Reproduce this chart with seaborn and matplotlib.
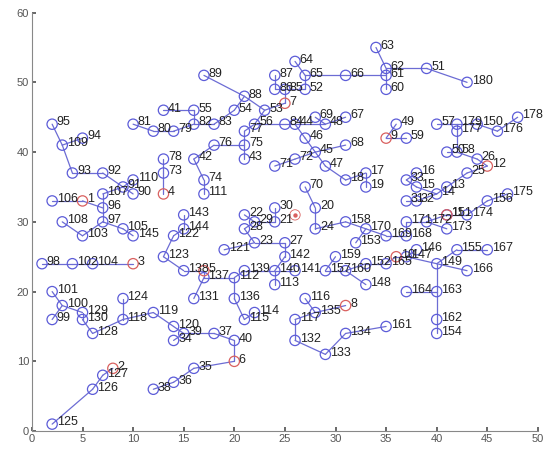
import matplotlib
matplotlib.use("Agg")
import matplotlib.pyplot as plt
import seaborn as sns
import pandas as pd

# node positions, index i -> node i+1
node_x = [5, 8, 10, 13, 17, 20, 25, 31, 35, 36,
          41, 45, 41, 40, 38, 38, 33, 31, 33, 28,
          24, 21, 22, 28, 43, 44, 25, 21, 22, 24,
          37, 38, 37, 14, 16, 14, 18, 12, 15, 20,
          13, 16, 21, 26, 28, 27, 29, 29, 36, 41,
          39, 27, 23, 20, 16, 22, 40, 42, 37, 35,
          35, 35, 34, 26, 27, 31, 31, 31, 28, 27,
          24, 26, 13, 17, 21, 18, 21, 13, 14, 12,
          10, 16, 18, 25, 25, 24, 24, 21, 17, 10,
          9, 7, 4, 5, 2, 7, 7, 1, 2, 3,
          2, 4, 5, 6, 9, 2, 7, 3, 3, 10,
          17, 20, 24, 22, 21, 27, 26, 9, 12, 14,
          19, 14, 13, 9, 2, 6, 7, 6, 5, 5,
          16, 26, 29, 31, 28, 20, 17, 15, 21, 24,
          26, 25, 15, 15, 10, 38, 37, 33, 40, 44,
          41, 33, 32, 40, 42, 45, 29, 31, 30, 31,
          35, 40, 40, 37, 35, 43, 45, 37, 35, 33,
          37, 39, 41, 43, 47, 46, 42, 48, 42, 43]
node_y = [33, 9, 24, 34, 23, 10, 47, 18, 42, 25,
          31, 38, 35, 34, 35, 37, 37, 36, 35, 32,
          30, 31, 27, 29, 37, 39, 27, 29, 30, 32,
          33, 33, 36, 13, 9, 7, 14, 6, 14, 13,
          46, 39, 39, 44, 40, 42, 38, 44, 44, 40,
          52, 49, 46, 46, 46, 44, 44, 40, 42, 49,
          51, 52, 55, 53, 51, 51, 45, 41, 45, 35,
          38, 39, 37, 36, 41, 41, 43, 39, 43, 43,
          44, 44, 44, 44, 49, 49, 51, 48, 51, 34,
          35, 37, 37, 42, 44, 32, 30, 24, 16, 18,
          20, 24, 28, 24, 29, 33, 34, 30, 41, 36,
          34, 22, 21, 17, 16, 19, 16, 16, 17, 15,
          26, 28, 25, 19, 1, 6, 8, 14, 17, 16,
          19, 13, 11, 14, 17, 19, 22, 23, 23, 23,
          23, 25, 31, 29, 28, 26, 25, 21, 24, 44,
          31, 24, 27, 14, 26, 33, 23, 30, 25, 23,
          15, 16, 20, 20, 24, 23, 26, 28, 28, 29,
          30, 30, 29, 31, 34, 43, 43, 45, 44, 50]
red_nodes = list(range(1, 13))
sink_x, sink_y = [26], [31]

edges = [
    (1, 106), (1, 96), (96, 107), (107, 91), (91, 110), (91, 90), (91, 92),
    (92, 93), (93, 109), (109, 95), (109, 94), (96, 97), (97, 103), (103, 108),
    (97, 105), (105, 145),
    (125, 126), (126, 127), (127, 2),
    (98, 102), (102, 104), (104, 3),
    (4, 73), (73, 78),
    (5, 138), (138, 123), (123, 122), (122, 144), (144, 143), (5, 137),
    (137, 131), (137, 112), (112, 136), (136, 115), (115, 114), (112, 139),
    (139, 140), (140, 113), (140, 141), (140, 142), (142, 27), (27, 23),
    (23, 121), (23, 28), (28, 29), (29, 22), (29, 21), (21, 30),
    (6, 40), (40, 37), (37, 39), (39, 34), (39, 120), (120, 119), (119, 118),
    (118, 124), (118, 128), (128, 130), (130, 129), (129, 100), (100, 101),
    (100, 99), (6, 35), (35, 36), (36, 38),
    (7, 85), (85, 86), (86, 87), (85, 52), (52, 65), (65, 64), (65, 66),
    (66, 61), (61, 60), (61, 62), (62, 63), (62, 51), (51, 180),
    (7, 53), (53, 88), (88, 89), (88, 54), (54, 83), (83, 82), (82, 79),
    (79, 80), (80, 81), (82, 55), (55, 41), (53, 56), (56, 77), (77, 75),
    (75, 76), (76, 42), (42, 74), (74, 111), (75, 43), (56, 84), (84, 44),
    (44, 48), (48, 69), (48, 67), (44, 46), (46, 45), (45, 68), (45, 72),
    (72, 71), (45, 47), (47, 18), (18, 17), (17, 19),
    (8, 135), (135, 116), (135, 117), (117, 132), (132, 133), (133, 134),
    (134, 161),
    (9, 49), (9, 59),
    (10, 147), (147, 146), (147, 149), (149, 155), (155, 167), (149, 166),
    (149, 163), (163, 164), (163, 162), (162, 154), (10, 165), (165, 152),
    (152, 160), (160, 157), (157, 159), (160, 148),
    (11, 151), (151, 174), (174, 156), (156, 175), (11, 172), (172, 173),
    (172, 171), (171, 168), (168, 169), (169, 170), (170, 153), (170, 158),
    (158, 24), (24, 20), (20, 70),
    (12, 26), (26, 58), (58, 50), (58, 177), (177, 179), (179, 57),
    (179, 150), (150, 176), (176, 178), (12, 25), (25, 13), (13, 14),
    (14, 32), (32, 31), (14, 15), (15, 33), (33, 16),
]

blue = "#5c5cd8"
red = "#d9605f"

nodes = pd.DataFrame({"id": range(1, len(node_x) + 1), "x": node_x, "y": node_y})
nodes["kind"] = ["head" if i in red_nodes else "node" for i in nodes["id"]]

rows = []
for k, (a, b) in enumerate(edges):
    rows.append({"edge": k, "x": node_x[a - 1], "y": node_y[a - 1]})
    rows.append({"edge": k, "x": node_x[b - 1], "y": node_y[b - 1]})
seg = pd.DataFrame(rows)

sns.set_theme(style="ticks")
plt.rcParams["font.family"] = ["Liberation Sans", "DejaVu Sans"]

fig = plt.figure(figsize=(5.5, 4.5), dpi=100)
ax = fig.add_axes([0.058, 0.042, 0.92, 0.93])

sns.lineplot(data=seg, x="x", y="y", units="edge", estimator=None, sort=False,
             color="#6c6cd4", linewidth=0.9, ax=ax)

for kind, col in [("node", blue), ("head", red)]:
    sub = nodes[nodes["kind"] == kind]
    sns.scatterplot(data=sub, x="x", y="y", s=55, ax=ax, zorder=3)
    pts = ax.collections[-1]
    pts.set_facecolor("none")
    pts.set_edgecolor(col)
    pts.set_linewidth(0.9)

sns.scatterplot(x=sink_x, y=sink_y, s=55, ax=ax, zorder=3)
ax.collections[-1].set_facecolor("none")
ax.collections[-1].set_edgecolor(red)
sns.scatterplot(x=sink_x, y=sink_y, s=10, color=red, linewidth=0, ax=ax, zorder=3)

for i, x, y in zip(nodes["id"], nodes["x"], nodes["y"]):
    ax.text(x + 0.45, y + 0.25, str(i), fontsize=9, color="#222222",
            va="center", ha="left")

ax.set_xlim(0, 50)
ax.set_ylim(0, 60)
ax.set_xticks(range(0, 51, 5))
ax.set_yticks(range(0, 61, 10))
ax.set_xlabel("")
ax.set_ylabel("")
ax.tick_params(direction="in", length=3, labelsize=8, colors="#555555", pad=2)
for s in ["left", "bottom"]:
    ax.spines[s].set_color("#888888")
    ax.spines[s].set_linewidth(0.8)
sns.despine(ax=ax)

fig.savefig("out.png", dpi=100)
